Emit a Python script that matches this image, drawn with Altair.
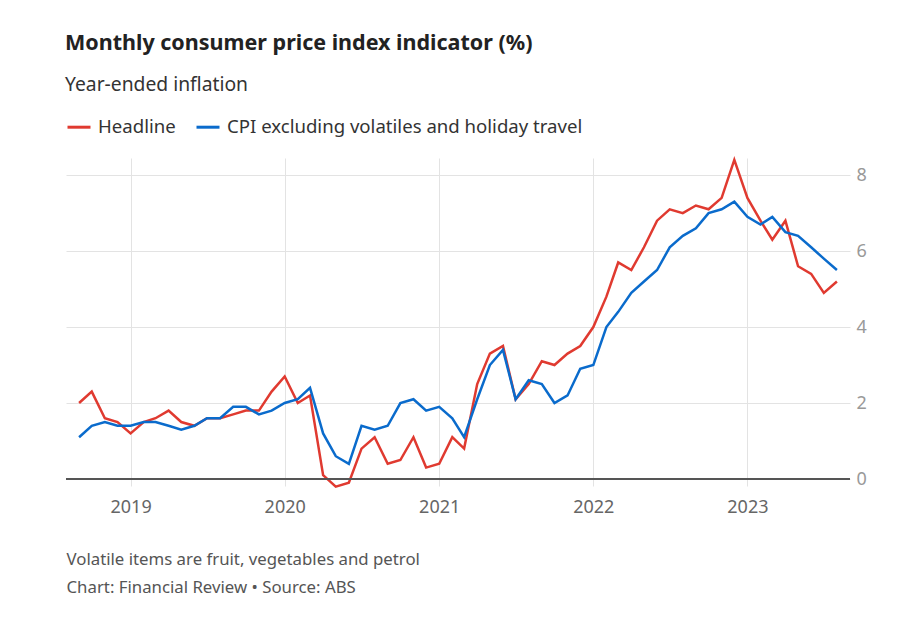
import altair as alt
import pandas as pd

months = pd.date_range("2018-09-01", periods=60, freq="MS").strftime("%Y-%m-%d").tolist()

headline = [
    2.0, 2.3, 1.6, 1.5,
    1.2, 1.5, 1.6, 1.8, 1.5, 1.4, 1.6, 1.6, 1.7, 1.8, 1.8, 2.3,
    2.7, 2.0, 2.2, 0.1, -0.2, -0.1, 0.8, 1.1, 0.4, 0.5, 1.1, 0.3,
    0.4, 1.1, 0.8, 2.5, 3.3, 3.5, 2.1, 2.5, 3.1, 3.0, 3.3, 3.5,
    4.0, 4.8, 5.7, 5.5, 6.1, 6.8, 7.1, 7.0, 7.2, 7.1, 7.4, 8.4,
    7.4, 6.8, 6.3, 6.8, 5.6, 5.4, 4.9, 5.2,
]
core = [
    1.1, 1.4, 1.5, 1.4,
    1.4, 1.5, 1.5, 1.4, 1.3, 1.4, 1.6, 1.6, 1.9, 1.9, 1.7, 1.8,
    2.0, 2.1, 2.4, 1.2, 0.6, 0.4, 1.4, 1.3, 1.4, 2.0, 2.1, 1.8,
    1.9, 1.6, 1.1, 2.1, 3.0, 3.4, 2.1, 2.6, 2.5, 2.0, 2.2, 2.9,
    3.0, 4.0, 4.4, 4.9, 5.2, 5.5, 6.1, 6.4, 6.6, 7.0, 7.1, 7.3,
    6.9, 6.7, 6.9, 6.5, 6.4, 6.1, 5.8, 5.5,
]
series_names = ["Headline", "CPI excluding volatiles and holiday travel"]
series_colors = ["#e03a30", "#0a6bcc"]
year_ticks = [2019, 2020, 2021, 2022, 2023]
y_ticks = [0, 2, 4, 6, 8]
footer_lines = [
    "Volatile items are fruit, vegetables and petrol",
    "Chart: Financial Review \u2022 Source: ABS",
]

df = pd.DataFrame({
    "date": months * 2,
    "value": headline + core,
    "series": [series_names[0]] * len(headline) + [series_names[1]] * len(core),
})
zero_df = pd.DataFrame({"y": [0]})

FONT = "Noto Sans"
GRID = "#e3e3e3"

x_enc = alt.X(
    "date:T",
    scale=alt.Scale(
        type="utc",
        domain=[
            alt.DateTime(year=2018, month=8, date=1, utc=True),
            alt.DateTime(year=2023, month=9, date=1, utc=True),
        ],
    ),
    axis=alt.Axis(
        values=[alt.DateTime(year=y, month=1, date=1, utc=True) for y in year_ticks],
        labelExpr="utcFormat(datum.value, '%Y')",
        grid=True,
        gridColor=GRID,
        domain=False,
        tickColor=GRID,
        tickSize=7,
        labelFontSize=18,
        labelColor="#666",
        labelPadding=12,
        title=footer_lines,
        titleAnchor="start",
        titleAlign="left",
        titleBaseline="alphabetic",
        titleX=0,
        titleY=85,
        titleFontSize=16.8,
        titleFontWeight="normal",
        titleColor="#555",
        titleLineHeight=28,
    ),
)

lines = alt.Chart(df).mark_line(strokeWidth=2.5).encode(
    x=x_enc,
    y=alt.Y(
        "value:Q",
        scale=alt.Scale(domain=[0, 8.45], nice=False),
        axis=alt.Axis(
            orient="right",
            values=y_ticks,
            grid=True,
            gridColor=GRID,
            domain=False,
            ticks=False,
            labelFontSize=18,
            labelColor="#999",
            labelPadding=6,
            title=None,
        ),
    ),
    color=alt.Color(
        "series:N",
        scale=alt.Scale(domain=series_names, range=series_colors),
        legend=alt.Legend(
            orient="top",
            direction="horizontal",
            title=None,
            symbolType="stroke",
            symbolSize=529,
            symbolStrokeWidth=3,
            labelFontSize=18.6,
            labelColor="#333",
            labelOffset=6,
            labelLimit=0,
            columnPadding=14,
            padding=0,
            offset=17,
        ),
    ),
)

zero = alt.Chart(zero_df).mark_rule(color="#555", strokeWidth=2).encode(y="y:Q")

chart = alt.layer(lines, zero).properties(
    width=784,
    height=321,
    padding={"left": 57, "top": 25, "right": 20, "bottom": 20},
    title=alt.TitleParams(
        text="Monthly consumer price index indicator (%)",
        subtitle="Year-ended inflation",
        anchor="start",
        fontSize=21.5,
        fontWeight="bold",
        color="#222",
        font=FONT,
        subtitleFont=FONT,
        subtitleFontSize=19.3,
        subtitleColor="#333",
        subtitlePadding=21,
        offset=19,
    ),
).configure(font=FONT).configure_view(stroke=None)

chart.save("out.html", embed_options={"renderer": "svg", "actions": False})
